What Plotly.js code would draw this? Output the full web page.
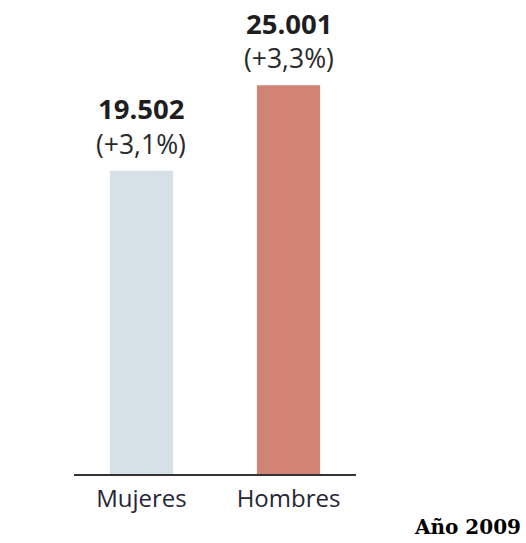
<!DOCTYPE html>
<html>
<head>
<meta charset="utf-8">
<script src="https://cdn.plot.ly/plotly-3.0.1.min.js"></script>
<style>html,body{margin:0;padding:0;background:#fff;}#chart{width:526px;height:543px;}</style>
</head>
<body>
<div id="chart"></div>
<script>
const categories = ["Mujeres", "Hombres"];
const values = [19502, 25001];
const valueLabels = ["19.502", "25.001"];
const changeLabels = ["(+3,1%)", "(+3,3%)"];
const barColors = ["#d6e0e7", "#d18374"];
const yearLabel = "Año 2009";

const trace = {
  type: "bar",
  x: categories,
  y: values,
  width: 0.43,
  marker: {color: barColors},
  hoverinfo: "skip"
};

const annotations = [];
categories.forEach((c, i) => {
  annotations.push({
    x: c, y: values[i], xref: "x", yref: "y",
    text: "<b>" + valueLabels[i] + "</b>",
    showarrow: false, yanchor: "middle", yshift: 62, borderpad: 0,
    font: {family: "Open Sans, sans-serif", size: 27.5, color: "#1e1e1e"}
  });
  annotations.push({
    x: c, y: values[i], xref: "x", yref: "y",
    text: changeLabels[i],
    showarrow: false, yanchor: "middle", yshift: 27, borderpad: 0,
    font: {family: "Open Sans, sans-serif", size: 26.5, color: "#2a2a2a"}
  });
});
annotations.push({
  x: 1.592, y: -0.115, xref: "paper", yref: "paper",
  xanchor: "right", yanchor: "middle", showarrow: false,
  text: "<b>" + yearLabel + "</b>",
  font: {family: "DejaVu Serif, serif", size: 20, color: "#000"}
});

const layout = {
  width: 526, height: 543,
  margin: {l: 74, r: 170, t: 14, b: 69},
  paper_bgcolor: "#fff", plot_bgcolor: "#fff",
  showlegend: false,
  xaxis: {
    range: [-0.459, 1.459], showgrid: false, zeroline: false,
    showline: true, linecolor: "#333", linewidth: 1.5,
    ticks: "", ticklabelstandoff: 3,
    tickfont: {family: "Open Sans, sans-serif", size: 24, color: "#262636"}
  },
  yaxis: {range: [0, 29582], visible: false, showgrid: false, zeroline: false},
  annotations: annotations
};

Plotly.newPlot("chart", [trace], layout, {displayModeBar: false, staticPlot: true});
</script>
</body>
</html>
